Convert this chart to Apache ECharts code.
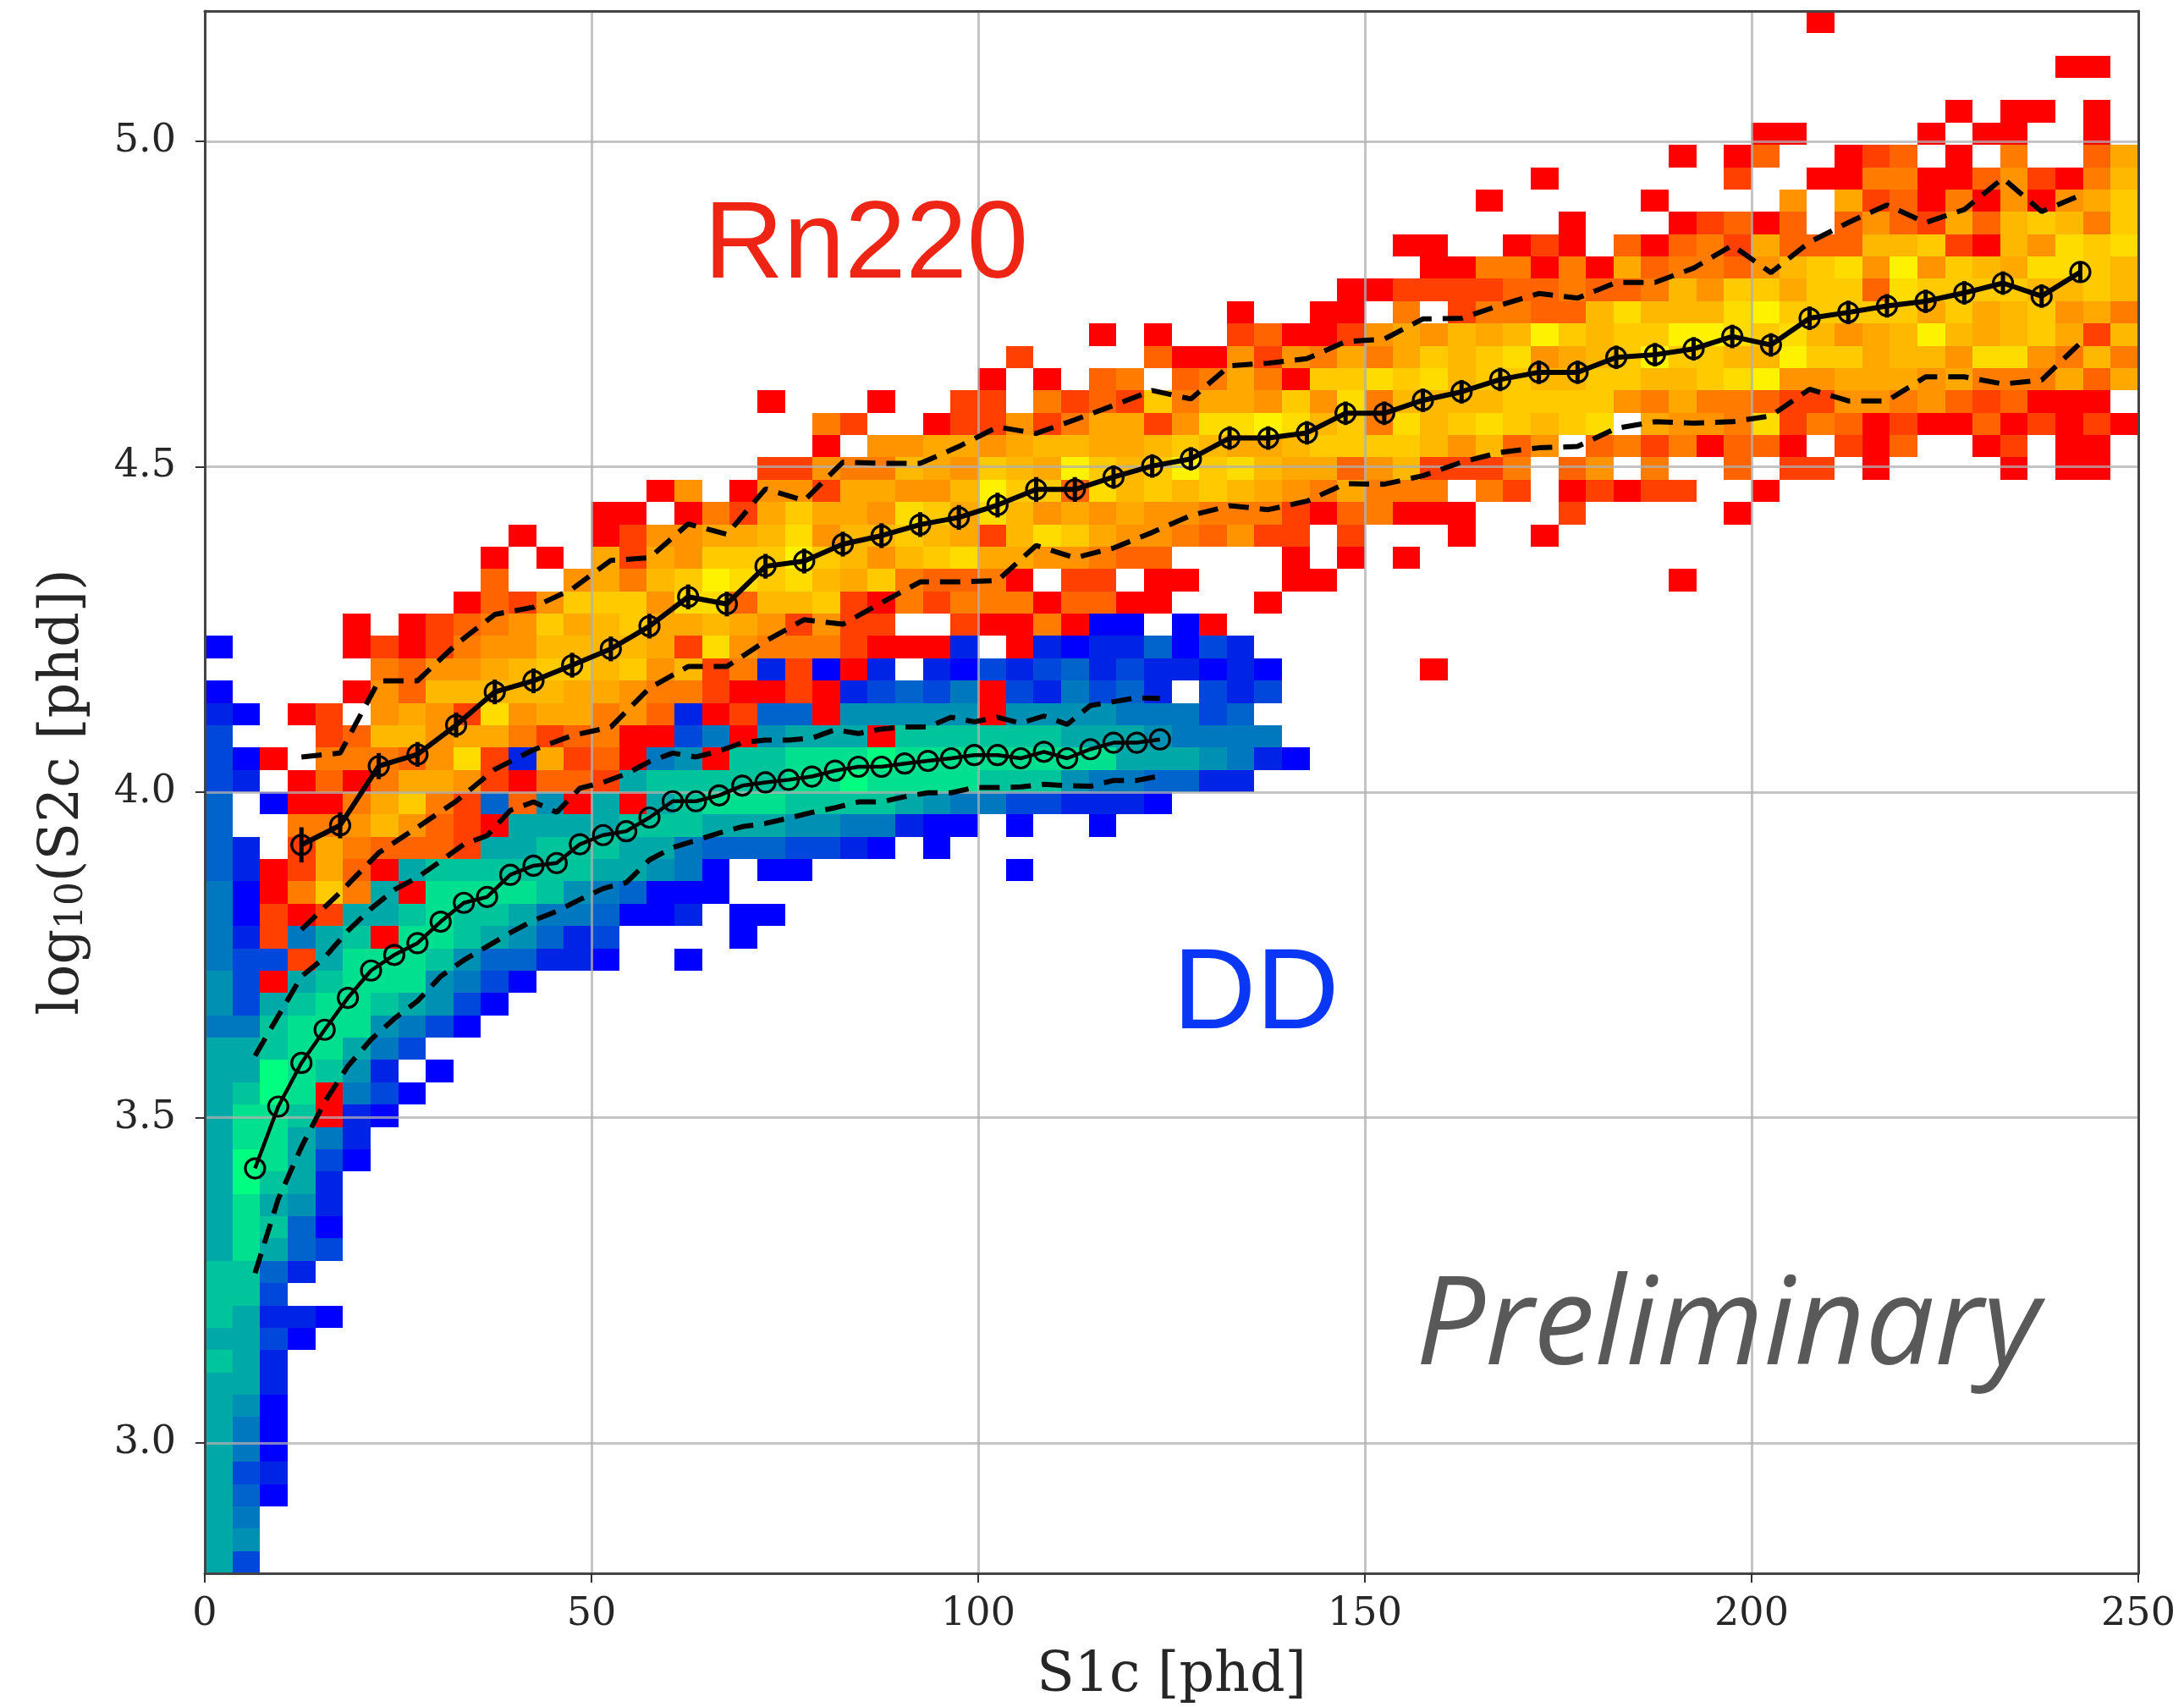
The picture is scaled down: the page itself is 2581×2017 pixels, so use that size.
<!DOCTYPE html>
<html>
<head>
<meta charset="utf-8">
<style>html,body{margin:0;padding:0;background:#fff}#c{width:2581px;height:2017px}</style>
<script src="https://cdn.jsdelivr.net/npm/echarts@6/dist/echarts.min.js"></script>
</head>
<body>
<div id="c"></div>
<script>
// 70 x 70 histogram, one string per S2 bin from the top. Digits: Rn220 level, letters: DD level, dot: empty.
const B = "..........";
const heatRows = [
[B,B,B,B,B,"........0."],
[],
[B,B,B,B,B,B,".......00."],
[],
[B,B,B,B,B,B,"...0.00.0."],
[B,B,B,B,B,"......00..","..0.00..0."],
[B,B,B,B,B,"...0.02..0","12.0.3..25"],
[B,B,B,B,"........0.",".....1..00","3300241036"],
[B,B,B,B,"......0...","..0....4.5","1203040457"],
[B,B,B,B,".........0","...01202.2","4215267637"],
[B,B,B,B,"...00..010",".202315222","6671064878"],
[B,B,B,B,"....003303","0523324678","4947658876"],
[B,B,B,B,".001111223","2236477577","2877776676"],
[B,B,B,".......0..","00.3.13322","6866689777","7757567453"],
[B,B,B,"..0.0..120","0145465697","6779987864","5696567516"],
[B,B,".........1","....200414","3535767845","6797766977","5664884363"],
[B,B,"........0.","0.23.23530","7787867766","7766789445","5545333525"],
[B,B,"0...0..11.","3121735547","4836666777","7435332114","434212000."],
[B,B,"..31..0114","1355148898","6738678767","8.54438132","0100201010"],
[B,B,"..0.445545","6655676556","777764624.","23130220.1","02..01.00."],
[B,B,"1143365476","5976797865","52461113.2","4.3..2.11.","0....0.00."],
[B,"......04.0","4415544697","7286767654","35333.31.0","1011..0..."],
[B,"....00.031","5755487586","4545443331","023000...1",".....0...."],
[B,".0..014455","6846676516","8754432411",".1...0..0."],
[B,"0.0.515477","7976467855","44322....0",".0.0......"],
[B,"2..4536798","7865732230",".11.00...0","0.........","...0......"],
[".........0","2147774882","6671031333","02200...0."],
[".....0.012","3475675565","41411..100","30aa.a0..."],
["a....01013","4466665184","3331000b.0","babbdacb.."],
["......3244","5677674613","b1a0b.bacb","cdbcbbaba.","....0....."],
["a....04266","6665543310","010bcdce0c","becdb.cbc."],
["ba.01.4541","8455342b01","dd0fffff0f","fffeeecd.."],
["c...126645","5312300ce0","fggg0hhhhh","hgggfeeee."],
["ca0.333248","1b5120ef0h","hiiijiiiii","iiigggfeba"],
["cb.0203554","10221ghhhh","hiijiiiihh","hfeeddbb.."],
["d.a0035731","d2f0g0ghii","ihhhhgfeec","cbbba....."],
["d..3346421","0gggghhhgg","gffeebaa.a","..a......."],
["db.1532221","gghhhggedd","dccba.a..."],
["db01520ghh","hhhhggfea.","aa.......a"],
["ea0373g0ii","iihfedaaa."],
["ea101gghih","hgeedaab.a","a........."],
["eb1egh0iih","gfdbc....a"],
["ecc1giiihf","ddbba..a.."],
["fc0ghiiife","ca........"],
["fcghiihgfc","a........."],
["eehiiifeca"],
["gghiigec.."],
["ggjihfb.a."],
["ghji0eca.."],
["giih0ba..."],
["giigeb...."],
["gjigca...."],
["gjhgb....."],
["gigfb....."],
["gihda....."],
["gigdc....."],
["hhdb......"],
["hhc......."],
["hgbba....."],
["ggca......"],
["hgb......."],
["ggb......."],
["gfa......."],
["gea......."],
["gea......."],
["gcb......."],
["gda......."],
["ge........"],
["gf........"],
["gc........"]
];
const rnPalette = ['#ff0000','#ff4000','#ff6400','#ff7c00','#ff9400','#ffa800','#ffb800','#ffca00','#ffdc00','#fff200'];
const ddPalette = ['#0000ff','#0024e6','#0048dc','#0064cc','#0078c0','#0090b4','#00a8a8','#00c49c','#00e08e','#00ff80'];

const rnS1 = [12.5,17.5,22.5,27.5,32.5,37.5,42.5,47.5,52.5,57.5,62.5,67.5,72.5,77.5,82.5,87.5,92.5,97.5,102.5,107.5,112.5,117.5,122.5,127.5,132.5,137.5,142.5,147.5,152.5,157.5,162.5,167.5,172.5,177.5,182.5,187.5,192.5,197.5,202.5,207.5,212.5,217.5,222.5,227.5,232.5,237.5,242.5];
const rnMean = [3.919,3.949,4.04,4.058,4.103,4.154,4.171,4.195,4.22,4.255,4.30,4.289,4.347,4.355,4.381,4.394,4.411,4.422,4.441,4.465,4.465,4.484,4.501,4.512,4.544,4.544,4.552,4.582,4.582,4.602,4.615,4.634,4.645,4.645,4.668,4.672,4.681,4.700,4.687,4.728,4.737,4.747,4.754,4.767,4.782,4.762,4.799];
const rnErr = [.027,.02,.02,.019,.019,.019,.019,.019,.019,.019,.019,.019,.019,.019,.019,.019,.019,.019,.019,.019,.019,.018,.018,.018,.018,.018,.018,.018,.018,.018,.018,.018,.018,.018,.018,.018,.018,.018,.018,.018,.018,.018,.018,.018,.018,.018,.016];
const rnUpper = [4.054,4.06,4.171,4.171,4.227,4.273,4.284,4.312,4.356,4.36,4.412,4.396,4.466,4.448,4.507,4.505,4.505,4.531,4.561,4.551,4.572,4.594,4.617,4.604,4.655,4.659,4.666,4.692,4.696,4.727,4.728,4.748,4.766,4.759,4.783,4.783,4.805,4.84,4.798,4.845,4.875,4.902,4.875,4.895,4.943,4.892,4.917];
const rnLower = [3.789,3.846,3.907,3.946,3.986,4.035,4.065,4.087,4.1,4.16,4.193,4.193,4.232,4.265,4.258,4.291,4.323,4.323,4.325,4.379,4.36,4.375,4.399,4.425,4.44,4.434,4.447,4.474,4.473,4.486,4.507,4.522,4.529,4.531,4.559,4.569,4.567,4.569,4.578,4.619,4.601,4.601,4.638,4.638,4.627,4.633,4.69];

const ddS1 = [6.5,9.5,12.5,15.5,18.5,21.5,24.5,27.5,30.5,33.5,36.5,39.5,42.5,45.5,48.5,51.5,54.5,57.5,60.5,63.5,66.5,69.5,72.5,75.5,78.5,81.5,84.5,87.5,90.5,93.5,96.5,99.5,102.5,105.5,108.5,111.5,114.5,117.5,120.5,123.5];
const ddMean = [3.422,3.517,3.584,3.635,3.684,3.726,3.75,3.768,3.801,3.83,3.839,3.873,3.887,3.891,3.92,3.934,3.94,3.961,3.986,3.986,3.995,4.01,4.015,4.019,4.024,4.033,4.039,4.039,4.044,4.048,4.052,4.057,4.057,4.052,4.062,4.052,4.066,4.076,4.076,4.081];
const ddUpper = [3.595,3.656,3.717,3.746,3.787,3.821,3.85,3.869,3.894,3.92,3.933,3.972,3.985,3.969,4.006,4.015,4.028,4.047,4.06,4.054,4.063,4.076,4.08,4.08,4.083,4.096,4.09,4.097,4.1,4.1,4.115,4.108,4.115,4.106,4.117,4.104,4.133,4.139,4.145,4.144];
const ddLower = [3.261,3.375,3.455,3.524,3.579,3.62,3.652,3.679,3.717,3.742,3.763,3.784,3.803,3.817,3.835,3.852,3.861,3.896,3.915,3.926,3.937,3.947,3.952,3.96,3.969,3.976,3.985,3.985,3.993,3.999,3.999,4.007,4.007,4.008,4.012,4.01,4.009,4.018,4.018,4.025];

const yTicks = [3.0,3.5,4.0,4.5,5.0];
const X_MIN = 0, X_MAX = 250, Y_MIN = 2.8, Y_MAX = 5.2, BINS = 70;

const rnCells = [], ddCells = [];
heatRows.forEach((groups, r) => {
  const s = groups.join('');
  for (let i = 0; i < s.length; i++) {
    const ch = s[i];
    if (ch === '.') continue;
    const x0 = X_MIN + i * (X_MAX - X_MIN) / BINS, x1 = X_MIN + (i + 1) * (X_MAX - X_MIN) / BINS;
    const y0 = Y_MAX - r * (Y_MAX - Y_MIN) / BINS, y1 = Y_MAX - (r + 1) * (Y_MAX - Y_MIN) / BINS;
    if (ch >= '0' && ch <= '9') rnCells.push([x0, x1, y0, y1, +ch]);
    else ddCells.push([x0, x1, y0, y1, ch.charCodeAt(0) - 97]);
  }
});
const cellRenderer = palette => (params, api) => {
  const a = api.coord([api.value(0), api.value(2)]);
  const b = api.coord([api.value(1), api.value(3)]);
  const x = Math.round(a[0]), y = Math.round(a[1]);
  return { type: 'rect', shape: { x, y, width: Math.round(b[0]) - x, height: Math.round(b[1]) - y },
           style: { fill: palette[api.value(4)] } };
};
const zip = (xs, ys) => xs.map((x, i) => [x, ys[i]]);
const meanLine = (xs, ys, w) => ({ type: 'line', data: zip(xs, ys), z: 5, silent: true,
  symbol: 'circle', symbolSize: 23, showSymbol: true, showAllSymbol: true,
  lineStyle: { color: '#000', width: w }, itemStyle: { color: 'rgba(0,0,0,0)', borderColor: '#000', borderWidth: 3.2 } });
const dashLine = (xs, ys) => ({ type: 'line', data: zip(xs, ys), z: 5, silent: true, symbol: 'none',
  lineStyle: { color: '#000', width: 6, type: [24, 13] } });
const gridLine = { show: true, lineStyle: { color: 'rgba(176,176,176,0.75)', width: 3 } };
const frame = { show: true, onZero: false, lineStyle: { color: '#444', width: 3 } };
const ink = { fontFamily: 'DejaVu Serif', fontSize: 46, color: '#262626' };

const chart = echarts.init(document.getElementById('c'), null, { renderer: 'canvas' });
chart.setOption({
  animation: false,
  backgroundColor: '#fff',
  grid: { left: 242, right: 54, top: 13, bottom: 158, containLabel: false, outerBoundsMode: 'none' },
  xAxis: [
    { type: 'value', min: X_MIN, max: X_MAX, interval: 50, z: 3, position: 'bottom',
      name: 'S1c [phd]', nameLocation: 'middle', nameGap: 90,
      nameTextStyle: { fontFamily: 'DejaVu Serif', fontSize: 65, color: '#262626' },
      axisLine: frame, axisTick: { show: true, length: 11, lineStyle: { color: '#333', width: 2 } },
      axisLabel: Object.assign({ margin: 26 }, ink), splitLine: gridLine },
    { type: 'value', min: X_MIN, max: X_MAX, position: 'top', z: 3, axisLine: frame,
      axisTick: { show: false }, axisLabel: { show: false }, splitLine: { show: false } }
  ],
  yAxis: [
    { type: 'value', min: Y_MIN, max: Y_MAX, z: 3, position: 'left',
      name: '{a|log}{s|10}{a|(S2c [phd])}', nameLocation: 'middle', nameGap: 134, nameRotate: 90,
      nameTextStyle: { rich: {
        a: { fontFamily: 'DejaVu Serif', fontSize: 65, color: '#262626' },
        s: { fontFamily: 'DejaVu Serif', fontSize: 44, color: '#262626', verticalAlign: 'bottom', padding: [22, 0, 0, 0] } } },
      axisLine: frame,
      axisTick: { show: true, length: 11, customValues: yTicks, lineStyle: { color: '#333', width: 2 } },
      axisLabel: Object.assign({ margin: 34, customValues: yTicks, formatter: v => v.toFixed(1) }, ink),
      splitLine: gridLine },
    { type: 'value', min: Y_MIN, max: Y_MAX, position: 'right', z: 3, axisLine: frame,
      axisTick: { show: false }, axisLabel: { show: false }, splitLine: { show: false } }
  ],
  series: [
    { type: 'custom', name: 'Rn220', data: rnCells, z: 1, silent: true, renderItem: cellRenderer(rnPalette),
      encode: { x: [0, 1], y: [2, 3] } },
    { type: 'custom', name: 'DD', data: ddCells, z: 1, silent: true, renderItem: cellRenderer(ddPalette),
      encode: { x: [0, 1], y: [2, 3] } },
    dashLine(rnS1, rnUpper), dashLine(rnS1, rnLower), meanLine(rnS1, rnMean, 6),
    { type: 'custom', z: 6, silent: true, data: rnS1.map((x, i) => [x, rnMean[i] - rnErr[i], rnMean[i] + rnErr[i]]),
      encode: { x: 0, y: [1, 2] },
      renderItem: (params, api) => {
        const a = api.coord([api.value(0), api.value(1)]), b = api.coord([api.value(0), api.value(2)]);
        return { type: 'line', shape: { x1: a[0], y1: a[1], x2: b[0], y2: b[1] }, style: { stroke: '#000', lineWidth: 5 } };
      } },
    dashLine(ddS1, ddUpper), dashLine(ddS1, ddLower), meanLine(ddS1, ddMean, 4.5)
  ],
  graphic: [
    { type: 'text', z: 20, left: 832, top: 227, style: { text: 'Rn220', fill: '#ee2415', font: '130px "Liberation Sans"' } },
    { type: 'text', z: 20, left: 1386, top: 1109, style: { text: 'DD', fill: '#0a37f5', font: '136px "Liberation Sans"' } },
    { type: 'text', z: 20, left: 1673, top: 1498, style: { text: 'Preliminary', fill: '#595959', font: 'italic 145px "Open Sans"' } }
  ]
});
</script>
</body>
</html>
